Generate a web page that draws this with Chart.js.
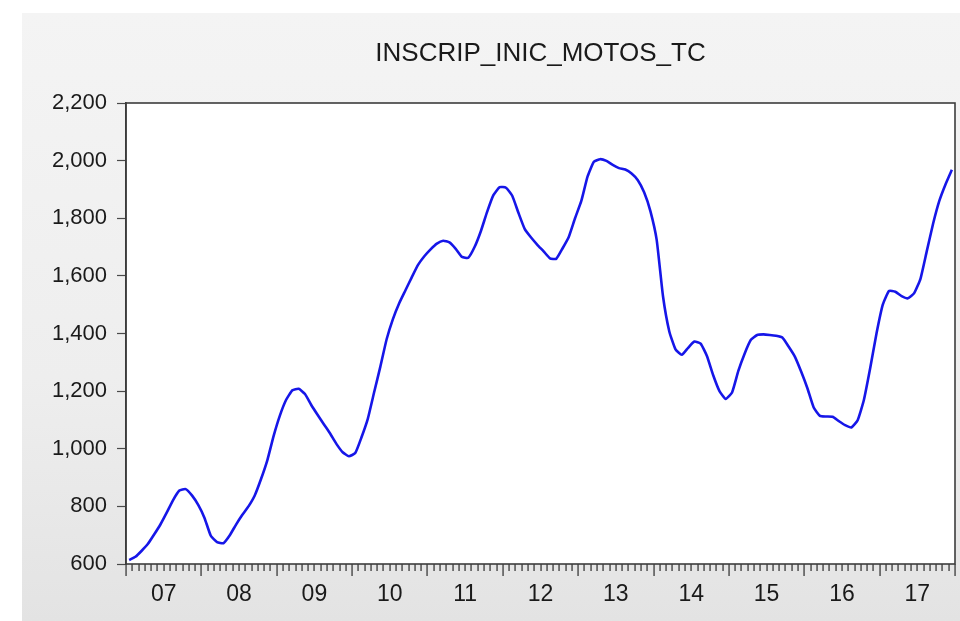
<!DOCTYPE html>
<html>
<head>
<meta charset="utf-8">
<title>INSCRIP_INIC_MOTOS_TC</title>
<script src="https://cdn.jsdelivr.net/npm/chart.js@4.4.1/dist/chart.umd.min.js"></script>
<style>
  html, body { margin: 0; padding: 0; background: #ffffff; }
  #frame {
    position: absolute; left: 22px; top: 13px; width: 938px; height: 608px;
    background: linear-gradient(to bottom, #f4f4f4 0%, #eeeeee 60%, #e3e3e3 100%);
  }
  #wrap { position: absolute; left: 0; top: 0; width: 960px; height: 621px; }
</style>
</head>
<body>
<div id="frame"></div>
<div id="wrap"><canvas id="chart" width="960" height="621"></canvas></div>
<script>
// Monthly series, 2007M01 .. 2017M12
const startYear = 2007;
const yearLabels = ['07', '08', '09', '10', '11', '12', '13', '14', '15', '16', '17'];
const yTicks = [600, 800, 1000, 1200, 1400, 1600, 1800, 2000, 2200];

const values2007 = [614, 625, 646, 670, 703, 738, 779, 822, 855, 860, 838, 805];
const values2008 = [760, 698, 676, 672, 699, 736, 770, 800, 838, 895, 960, 1044];
const values2009 = [1115, 1170, 1203, 1208, 1190, 1152, 1118, 1085, 1053, 1017, 988, 974];
const values2010 = [985, 1040, 1104, 1195, 1285, 1380, 1450, 1505, 1550, 1595, 1638, 1668];
const values2011 = [1692, 1712, 1722, 1716, 1694, 1666, 1663, 1700, 1755, 1822, 1880, 1908];
const values2012 = [1906, 1878, 1818, 1762, 1733, 1708, 1685, 1661, 1659, 1695, 1735, 1800];
const values2013 = [1860, 1945, 1996, 2005, 1999, 1985, 1974, 1969, 1955, 1932, 1890, 1825];
const values2014 = [1725, 1530, 1408, 1345, 1326, 1350, 1372, 1365, 1322, 1255, 1200, 1173];
const values2015 = [1195, 1270, 1330, 1378, 1395, 1397, 1395, 1392, 1386, 1355, 1320, 1268];
const values2016 = [1210, 1143, 1114, 1112, 1111, 1096, 1082, 1074, 1099, 1170, 1280, 1400];
const values2017 = [1500, 1548, 1545, 1530, 1522, 1540, 1590, 1685, 1780, 1860, 1918, 1968];

const series = [].concat(values2007, values2008, values2009, values2010, values2011,
  values2012, values2013, values2014, values2015, values2016, values2017);
const points = series.map((v, i) => ({ x: i, y: v }));
const nObs = series.length;

const FONT = '"Liberation Sans", Arial, Helvetica, sans-serif';

// white plot area, box round it, and monthly / yearly tick marks on the date axis
const frameAndTicks = {
  id: 'frameAndTicks',
  beforeDraw(chart) {
    const { ctx, chartArea } = chart;
    ctx.save();
    ctx.fillStyle = '#ffffff';
    ctx.fillRect(chartArea.left, chartArea.top,
      chartArea.right - chartArea.left, chartArea.bottom - chartArea.top);
    ctx.restore();
  },
  afterDraw(chart) {
    const { ctx, chartArea } = chart;
    const xs = chart.scales.x;
    const y0 = Math.round(chartArea.bottom);
    ctx.save();
    ctx.fillStyle = '#3a3a3a';
    for (let m = 0; m <= nObs; m++) {
      const px = Math.round(xs.getPixelForValue(m - 0.5));
      const len = (m % 12 === 0) ? 12 : 7;
      ctx.fillRect(px - 0.6, y0, 1.3, len);
    }
    ctx.strokeStyle = '#3c3c3c';
    ctx.lineWidth = 1.6;
    ctx.strokeRect(chartArea.left, chartArea.top,
      chartArea.right - chartArea.left, chartArea.bottom - chartArea.top);
    ctx.restore();
  }
};

new Chart(document.getElementById('chart'), {
  type: 'line',
  data: {
    datasets: [{
      label: 'INSCRIP_INIC_MOTOS_TC',
      data: points,
      borderColor: '#1616e8',
      borderWidth: 2.6,
      pointRadius: 0,
      tension: 0.15,
      fill: false
    }]
  },
  options: {
    responsive: false,
    animation: false,
    layout: { padding: { left: 0, right: 5, top: 0, bottom: 0 } },
    plugins: {
      legend: { display: false },
      tooltip: { enabled: false },
      title: {
        display: true,
        fullSize: false,
        text: 'INSCRIP_INIC_MOTOS_TC',
        color: '#1a1a1a',
        font: { family: FONT, size: 26, weight: 'normal', lineHeight: 1.2 },
        padding: { top: 38.4, bottom: 33.4 }
      }
    },
    scales: {
      x: {
        type: 'linear',
        min: -0.5,
        max: nObs - 0.5,
        afterBuildTicks(scale) {
          scale.ticks = yearLabels.map((_, k) => ({ value: k * 12 + 5.5 }));
        },
        afterFit(scale) { scale.height = 57; },
        grid: { display: false, drawTicks: false },
        border: { display: false },
        ticks: {
          autoSkip: false,
          maxRotation: 0,
          padding: 17,
          color: '#1a1a1a',
          font: { family: FONT, size: 23 },
          callback(value) {
            const k = Math.round((value - 5.5) / 12);
            return yearLabels[k];
          }
        }
      },
      y: {
        min: 600,
        max: 2200,
        afterBuildTicks(scale) {
          scale.ticks = yTicks.map(v => ({ value: v }));
        },
        afterFit(scale) { scale.width = 126; },
        grid: {
          drawOnChartArea: false,
          drawTicks: true,
          tickLength: 9,
          tickColor: '#4a4a4a',
          tickWidth: 1.2
        },
        border: { display: true, color: '#3c3c3c', width: 1.6 },
        ticks: {
          padding: 10,
          color: '#1a1a1a',
          font: { family: FONT, size: 22 },
          callback(value) { return Number(value).toLocaleString('en-US'); }
        }
      }
    }
  },
  plugins: [frameAndTicks]
});
</script>
</body>
</html>
